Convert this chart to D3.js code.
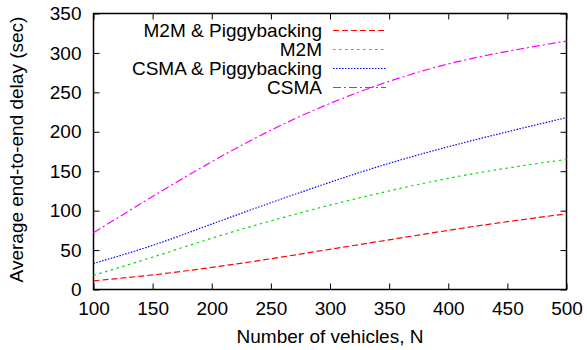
<!DOCTYPE html>
<html>
<head>
<meta charset="utf-8">
<script src="https://cdn.jsdelivr.net/npm/d3@7"></script>
<style>
  body { margin: 0; background: #fff; }
  text { font-family: "Liberation Sans", Arial, sans-serif; fill: #000; }
</style>
</head>
<body>
<div id="drawing"></div>
<script>
// values, every 50 vehicles
const vehicles = [100, 150, 200, 250, 300, 350, 400, 450, 500];
const m2mPiggy = [11, 18.5, 28, 39, 51, 63, 75, 86, 96];
const m2m = [18, 41, 65, 87, 107, 125, 141, 154, 165];
const csmaPiggy = [33, 56, 83, 110, 136, 160, 181, 200, 218];
const csma = [72, 118, 162, 202, 236, 264, 286, 302, 315];
const seriesNames = ["M2M & Piggybacking", "M2M", "CSMA & Piggybacking", "CSMA"];
const xTicks = [100, 150, 200, 250, 300, 350, 400, 450, 500];
const yTicks = [0, 50, 100, 150, 200, 250, 300, 350];

const width = 587;
const height = 350;
const margin = {top: 13.5, right: 20.5, bottom: 60.5, left: 93.5};
const w = width - margin.left - margin.right;
const h = height - margin.top - margin.bottom;
const fontSize = "19px";

const svg = d3.select("#drawing").append("svg")
  .attr("width", width)
  .attr("height", height);

const g = svg.append("g")
  .attr("transform", `translate(${margin.left}, ${margin.top})`);

const x = d3.scaleLinear().domain([100, 500]).range([0, w]);
const y = d3.scaleLinear().domain([0, 350]).range([h, 0]);

// ticks on all four sides, pointing inward like gnuplot
g.append("g")
  .attr("transform", `translate(0, ${h})`)
  .call(d3.axisBottom(x).tickValues(xTicks).tickSizeInner(-6).tickSizeOuter(0).tickPadding(12))
  .call(a => a.select(".domain").remove())
  .selectAll("text").style("font-size", fontSize);

g.append("g")
  .call(d3.axisTop(x).tickValues(xTicks).tickSizeInner(-6).tickSizeOuter(0).tickFormat(""))
  .call(a => a.select(".domain").remove());

g.append("g")
  .call(d3.axisLeft(y).tickValues(yTicks).tickSizeInner(-6).tickSizeOuter(0).tickPadding(12))
  .call(a => a.select(".domain").remove())
  .selectAll("text").style("font-size", fontSize);

g.append("g")
  .attr("transform", `translate(${w}, 0)`)
  .call(d3.axisRight(y).tickValues(yTicks).tickSizeInner(-6).tickSizeOuter(0).tickFormat(""))
  .call(a => a.select(".domain").remove());

g.selectAll(".tick line").attr("stroke", "#000").attr("stroke-width", 1);

g.append("rect")
  .attr("width", w)
  .attr("height", h)
  .attr("fill", "none")
  .attr("stroke", "#000")
  .attr("stroke-width", 1.5);

const series = [
  {name: seriesNames[0], values: m2mPiggy, color: "#ff0000", dash: "6,3"},
  {name: seriesNames[1], values: m2m, color: "#00e000", dash: "2.5,3.5"},
  {name: seriesNames[2], values: csmaPiggy, color: "#0000ff", dash: "1.5,1.5"},
  {name: seriesNames[3], values: csma, color: "#ff00ff", dash: "8,3,2,3"}
];

const line = d3.line()
  .x((d, i) => x(vehicles[i]))
  .y(d => y(d))
  .curve(d3.curveNatural);

g.selectAll(".series")
  .data(series)
  .enter()
  .append("path")
    .attr("class", "series")
    .attr("d", d => line(d.values))
    .attr("fill", "none")
    .attr("stroke", d => d.color)
    .attr("stroke-width", 1.2)
    .attr("stroke-dasharray", d => d.dash);

// legend
const legend = svg.append("g");
series.forEach((s, i) => {
  const ly = 30.5 + i * 19;
  legend.append("text")
    .attr("x", 322)
    .attr("y", ly)
    .attr("dy", "0.35em")
    .attr("text-anchor", "end")
    .style("font-size", fontSize)
    .text(s.name);
  legend.append("line")
    .attr("x1", 333).attr("x2", 386)
    .attr("y1", ly).attr("y2", ly)
    .attr("stroke", s.color)
    .attr("stroke-width", 1.2)
    .attr("stroke-dasharray", s.dash);
});

// axis titles
svg.append("text")
  .attr("x", margin.left + w / 2)
  .attr("y", 343)
  .attr("text-anchor", "middle")
  .style("font-size", fontSize)
  .text("Number of vehicles, N");

svg.append("text")
  .attr("transform", `translate(23, ${margin.top + h / 2 - 2}) rotate(-90)`)
  .attr("text-anchor", "middle")
  .style("font-size", fontSize)
  .text("Average end-to-end delay (sec)");
</script>
</body>
</html>
